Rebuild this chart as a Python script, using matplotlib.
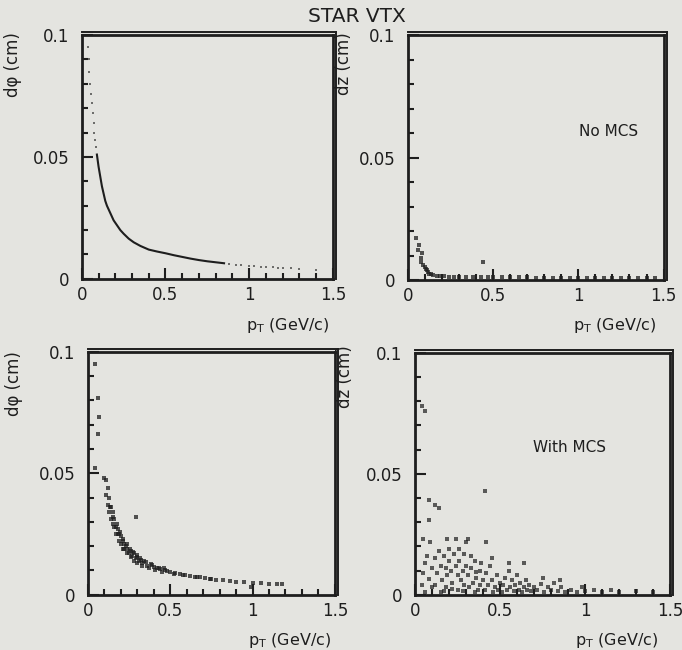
import matplotlib
matplotlib.use("Agg")
import matplotlib.pyplot as plt
import numpy as np

plt.rcParams['font.family'] = ['DejaVu Sans']

# top-left: d(phi) vs pT, no multiple scattering (dense curve + sparse dots)
tl_curve_pt = [0.09, 0.10, 0.11, 0.12, 0.13, 0.14, 0.15, 0.17, 0.19, 0.21, 0.23, 0.25,
               0.28, 0.31, 0.35, 0.40, 0.45, 0.50, 0.55, 0.60, 0.65, 0.70, 0.75, 0.80, 0.85]
tl_curve_dphi = [0.051, 0.046, 0.042, 0.038, 0.035, 0.032, 0.030, 0.027, 0.024, 0.022, 0.020, 0.0185,
                 0.0165, 0.015, 0.0135, 0.0120, 0.0112, 0.0105, 0.0097, 0.0090, 0.0083, 0.0077, 0.0072, 0.0068, 0.0064]
tl_dots_pt = [0.035, 0.04, 0.045, 0.05, 0.055, 0.06, 0.065, 0.07, 0.075, 0.08, 0.085,
              0.88, 0.92, 0.95, 1.0, 1.03, 1.07, 1.1, 1.14, 1.17, 1.2, 1.25, 1.3, 1.4]
tl_dots_dphi = [0.095, 0.090, 0.085, 0.080, 0.076, 0.072, 0.068, 0.064, 0.060, 0.057, 0.054,
                0.0061, 0.0058, 0.0056, 0.0053, 0.0051, 0.0050, 0.0048, 0.0047, 0.0046, 0.0045, 0.0043, 0.0041, 0.0038]

# top-right: dz vs pT, no multiple scattering
tr_pt = [0.05, 0.06, 0.068, 0.075, 0.078, 0.084, 0.09, 0.098, 0.105, 0.11, 0.12, 0.127, 0.135, 0.15,
         0.17, 0.19, 0.21, 0.24, 0.27, 0.3, 0.34, 0.38, 0.43, 0.47, 0.5, 0.55, 0.6, 0.65, 0.7,
         0.75, 0.8, 0.85, 0.9, 0.95, 1.0, 1.05, 1.1, 1.15, 1.2, 1.25, 1.3, 1.35, 1.4, 1.45, 0.44]
tr_dz = [0.017, 0.0125, 0.0144, 0.009, 0.0075, 0.011, 0.006, 0.0055, 0.0045, 0.004, 0.0032, 0.0027, 0.0024, 0.002,
         0.0018, 0.0016, 0.0015, 0.0014, 0.0014, 0.0013, 0.0013, 0.0012, 0.0012, 0.0012, 0.0011, 0.0011, 0.0011, 0.0011, 0.0011,
         0.0010, 0.0010, 0.0010, 0.0010, 0.0010, 0.0010, 0.0010, 0.0010, 0.0010, 0.0010, 0.0010, 0.0010, 0.0010, 0.0010, 0.0010, 0.0074]

# bottom-left: d(phi) vs pT, with multiple scattering
bl_pt = [0.04, 0.06, 0.07, 0.06, 0.045,
         0.10, 0.11, 0.12, 0.11, 0.13, 0.12, 0.14, 0.13, 0.15, 0.14, 0.16, 0.15, 0.17, 0.18, 0.17,
         0.19, 0.20, 0.19, 0.21, 0.22, 0.21, 0.23, 0.24, 0.25, 0.26, 0.27, 0.28, 0.29, 0.30, 0.31,
         0.32, 0.33, 0.35, 0.36, 0.38, 0.40, 0.42, 0.44, 0.46, 0.48, 0.50, 0.53, 0.56, 0.59, 0.62,
         0.65, 0.68, 0.71, 0.74, 0.78, 0.82, 0.86, 0.90, 0.95, 1.00, 1.05, 1.10, 1.15, 1.18,
         0.16, 0.18, 0.20, 0.22, 0.24, 0.26, 0.28, 0.30, 0.33, 0.37, 0.41, 0.45, 0.52, 0.58, 0.66, 0.75,
         0.135, 0.155, 0.175, 0.195, 0.215, 0.235, 0.255, 0.275, 0.295, 0.315, 0.34, 0.39, 0.43, 0.47,
         0.29, 0.99]
bl_dphi = [0.095, 0.081, 0.073, 0.066, 0.052,
           0.048, 0.047, 0.044, 0.041, 0.040, 0.037, 0.036, 0.034, 0.034, 0.031, 0.031, 0.029, 0.028, 0.027, 0.025,
           0.025, 0.024, 0.022, 0.022, 0.021, 0.019, 0.020, 0.019, 0.017, 0.018, 0.016, 0.017, 0.015, 0.0155, 0.014,
           0.0145, 0.013, 0.0135, 0.012, 0.0125, 0.0115, 0.011, 0.0105, 0.0108, 0.0098, 0.0095, 0.009, 0.0087, 0.0082, 0.0078,
           0.0075, 0.0072, 0.0068, 0.0066, 0.0062, 0.006, 0.0057, 0.0054, 0.0052, 0.0049, 0.0047, 0.0046, 0.0044, 0.0043,
           0.028, 0.025, 0.021, 0.019, 0.017, 0.0155, 0.014, 0.013, 0.012, 0.0112, 0.0102, 0.0095, 0.0085, 0.008, 0.0071, 0.0064,
           0.036, 0.032, 0.029, 0.026, 0.023, 0.021, 0.019, 0.0175, 0.0162, 0.0152, 0.0138, 0.0122, 0.0112, 0.0103,
           0.032, 0.0032]

# bottom-right: dz vs pT, with multiple scattering
br_pt = [0.04, 0.05, 0.06, 0.07, 0.05, 0.09, 0.08, 0.10, 0.10, 0.06,
         0.12, 0.13, 0.14, 0.15, 0.16, 0.17, 0.18, 0.18, 0.19, 0.20, 0.12, 0.15, 0.20, 0.17,
         0.21, 0.22, 0.23, 0.24, 0.25, 0.25, 0.26, 0.27, 0.28, 0.28, 0.29, 0.30, 0.22, 0.26, 0.24, 0.29,
         0.31, 0.32, 0.33, 0.34, 0.35, 0.35, 0.36, 0.37, 0.38, 0.38, 0.39, 0.40, 0.33, 0.31, 0.36,
         0.41, 0.42, 0.43, 0.44, 0.45, 0.46, 0.47, 0.48, 0.49, 0.50, 0.42, 0.45, 0.41,
         0.51, 0.52, 0.53, 0.54, 0.55, 0.56, 0.57, 0.58, 0.59, 0.60, 0.55,
         0.61, 0.62, 0.63, 0.64, 0.65, 0.66, 0.67, 0.68, 0.70, 0.64,
         0.72, 0.74, 0.76, 0.78, 0.80, 0.82, 0.84, 0.86, 0.88, 0.75, 0.85,
         0.92, 0.95, 0.98, 1.00, 1.05, 1.10, 1.15, 1.20, 1.30, 1.40,
         0.06, 0.04, 0.08, 0.12, 0.14, 0.08, 0.19, 0.30]
br_dz = [0.004, 0.009, 0.013, 0.016, 0.023, 0.022, 0.0065, 0.011, 0.003, 0.001,
         0.015, 0.009, 0.018, 0.012, 0.006, 0.016, 0.011, 0.003, 0.008, 0.014, 0.004, 0.001, 0.019, 0.0015,
         0.010, 0.005, 0.017, 0.012, 0.008, 0.002, 0.014, 0.006, 0.010, 0.0015, 0.004, 0.012, 0.0025, 0.019, 0.023, 0.017,
         0.008, 0.003, 0.011, 0.005, 0.014, 0.001, 0.007, 0.002, 0.010, 0.004, 0.013, 0.006, 0.016, 0.023, 0.0095,
         0.002, 0.009, 0.004, 0.012, 0.006, 0.001, 0.003, 0.008, 0.002, 0.005, 0.022, 0.015, 0.043,
         0.001, 0.004, 0.007, 0.002, 0.010, 0.003, 0.006, 0.0015, 0.004, 0.008, 0.013,
         0.002, 0.005, 0.001, 0.003, 0.006, 0.002, 0.004, 0.0015, 0.003, 0.013,
         0.002, 0.0045, 0.001, 0.003, 0.002, 0.005, 0.0015, 0.003, 0.001, 0.007, 0.006,
         0.002, 0.001, 0.003, 0.0015, 0.002, 0.001, 0.002, 0.001, 0.0015, 0.001,
         0.076, 0.078, 0.039, 0.037, 0.036, 0.031, 0.023, 0.022]

bg = '#e4e4e0'
ink = '#1e1e1e'

fig = plt.figure(figsize=(6.82, 6.50), dpi=100, facecolor=bg)

boxes = {
    'tl': [0.120, 0.571, 0.368, 0.375],
    'tr': [0.598, 0.569, 0.375, 0.377],
    'bl': [0.129, 0.085, 0.362, 0.374],
    'br': [0.6085, 0.085, 0.374, 0.372],
}


def style_axes(ax):
    ax.set_facecolor(bg)
    ax.set_xlim(0, 1.5)
    ax.set_ylim(0, 0.1)
    ax.set_xticks([0, 0.5, 1, 1.5])
    ax.set_xticklabels(['0', '0.5', '1', '1.5'])
    ax.set_yticks([0, 0.05, 0.1])
    ax.set_yticklabels(['0', '0.05', '0.1'])
    ax.set_xticks(np.arange(0, 1.51, 0.1), minor=True)
    ax.set_yticks(np.arange(0, 0.101, 0.01), minor=True)
    ax.tick_params(which='both', direction='in', top=False, right=False,
                   color=ink, width=1.5, labelsize=12, labelcolor=ink)
    ax.tick_params(which='major', length=8)
    ax.tick_params(axis='x', which='major', pad=5)
    ax.tick_params(axis='y', which='major', pad=9)
    ax.tick_params(which='minor', length=4.5)
    for s in ax.spines.values():
        s.set_linewidth(2.0)
        s.set_color(ink)
    # doubled frame on top and right, as in the printed figure
    ax.plot([0, 1.012], [1.012, 1.012], transform=ax.transAxes, color=ink, lw=1.4, clip_on=False)
    ax.plot([1.012, 1.012], [0, 1.012], transform=ax.transAxes, color=ink, lw=1.4, clip_on=False)


ax1 = fig.add_axes(boxes['tl'])
style_axes(ax1)
ax1.plot(tl_curve_pt, tl_curve_dphi, color=ink, lw=1.5)
ax1.scatter(tl_dots_pt, tl_dots_dphi, s=4, marker='s', color=ink, alpha=0.6, lw=0)

ax2 = fig.add_axes(boxes['tr'])
style_axes(ax2)
ax2.scatter(tr_pt, tr_dz, s=5, marker='s', color=ink, alpha=0.75, lw=0)
ax2.text(1.18, 0.0605, 'No MCS', ha='center', va='center', fontsize=11, color=ink)

ax3 = fig.add_axes(boxes['bl'])
style_axes(ax3)
ax3.scatter(bl_pt, bl_dphi, s=7, marker='s', color=ink, alpha=0.75, lw=0)

ax4 = fig.add_axes(boxes['br'])
style_axes(ax4)
ax4.scatter(br_pt, br_dz, s=7, marker='s', color=ink, alpha=0.7, lw=0)
ax4.text(0.91, 0.061, 'With MCS', ha='center', va='center', fontsize=11, color=ink)

fig.text(357 / 682, 1 - 17 / 650, 'STAR VTX', ha='center', va='center', fontsize=14.5, color=ink)

xlab = r'p$_{\rm T}$ (GeV/c)'
for x, y in [(288, 326), (615, 326), (290, 640), (617, 640)]:
    fig.text(x / 682, 1 - y / 650, xlab, ha='center', va='center', fontsize=11.5, color=ink)

for x, y, t in [(13, 65, 'dφ (cm)'), (344, 64, 'dz (cm)'), (14, 384, 'dφ (cm)'), (345, 377, 'dz (cm)')]:
    fig.text(x / 682, 1 - y / 650, t, ha='center', va='center', rotation=90, fontsize=12, color=ink)

fig.savefig('out.png', dpi=100, facecolor=bg)
